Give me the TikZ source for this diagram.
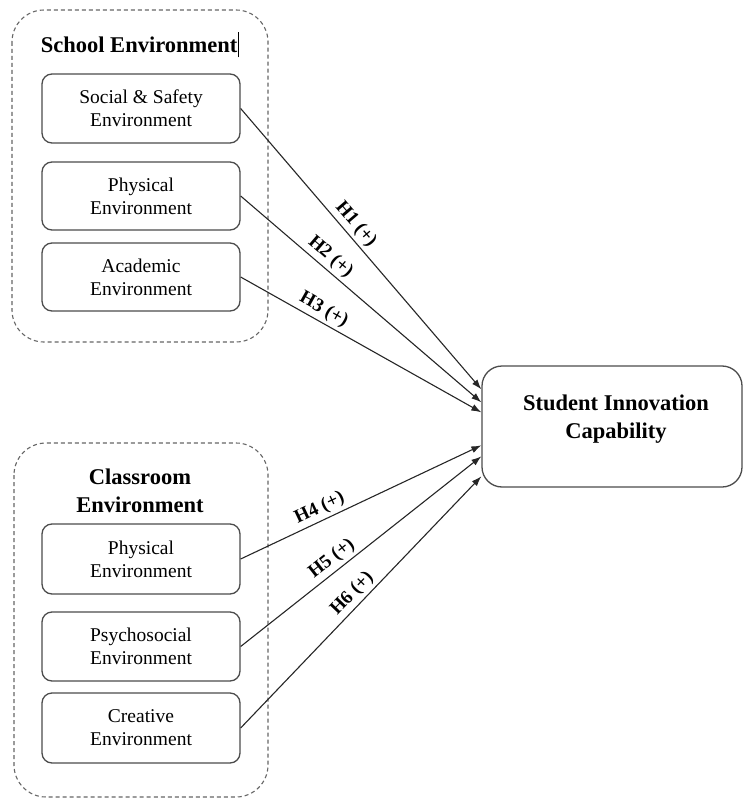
\documentclass[tikz,border=0pt]{standalone}
\usepackage{fontspec}
\setmainfont{Liberation Serif}
\usetikzlibrary{arrows.meta,calc}
\begin{document}
\begin{tikzpicture}[x=1pt,y=-1pt,
  group/.style={draw=black!60,line width=1.1pt,dash pattern=on 4pt off 3pt,rounded corners=32pt},
  factor/.style={draw=black!70,line width=1.3pt,rounded corners=10pt,minimum width=198pt,
    align=center,font=\fontsize{19.5}{23}\selectfont,inner sep=0pt},
  title/.style={align=center,font=\fontsize{22.5}{28}\selectfont\bfseries,inner sep=0pt},
  outcome/.style={draw=black!70,line width=1.3pt,rounded corners=20pt,minimum width=260pt,minimum height=121pt,inner sep=0pt},
  hyp/.style={font=\fontsize{19}{22}\selectfont\bfseries,sloped,above,inner sep=3pt},
  link/.style={draw=black!85,line width=1.1pt,-{Latex[length=10pt,width=7pt]}}]
\useasboundingbox (0,0) rectangle (743,799);
% groups
\draw[group] (12,10) rectangle (268,342);
\draw[group] (14,443) rectangle (268,797);
% titles
\node[title] (set) at (140,45) {School Environment\hspace{1pt}\rule[-5pt]{0.8pt}{25pt}};
\node[title] (cet) at (140,491) {Classroom\\Environment};
% school factors
\node[factor,minimum height=69pt] (ss) at (141,108.5) {Social \& Safety\\Environment};
\node[factor,minimum height=68pt] (pe) at (141,196) {Physical\\Environment};
\node[factor,minimum height=68pt] (ae) at (141,277) {Academic\\Environment};
% classroom factors
\node[factor,minimum height=70pt] (cp) at (141,559) {Physical\\Environment};
\node[factor,minimum height=69pt] (ps) at (141,646.5) {Psychosocial\\Environment};
\node[factor,minimum height=70pt] (cr) at (141,728) {Creative\\Environment};
% outcome
\node[outcome] (sic) at (612,426.5) {};
\node[title] (sict) at (616,419) {Student Innovation\\Capability};
% endpoints
\coordinate (e1) at ($(sic.north west)+(0,24)$);
\coordinate (e2) at ($(sic.north west)+(0,37)$);
\coordinate (e3) at ($(sic.north west)+(0,47)$);
\coordinate (e4) at ($(sic.north west)+(0,80)$);
\coordinate (e5) at ($(sic.north west)+(0,91)$);
\coordinate (e6) at ($(sic.north west)+(0,111)$);
% links
\draw[link] (ss.east) -- node[hyp,pos=0.44] {H1 (+)} (e1);
\draw[link] (pe.east) -- node[hyp,pos=0.34] {H2 (+)} (e2);
\draw[link] (ae.east) -- node[hyp,pos=0.32] {H3 (+)} (e3);
\draw[link] (cp.east) -- node[hyp,pos=0.35] {H4 (+)} (e4);
\draw[link] (ps.east) -- node[hyp,pos=0.41] {H5 (+)} (e5);
\draw[link] (cr.east) -- node[hyp,pos=0.50] {H6 (+)} (e6);
\end{tikzpicture}
\end{document}
